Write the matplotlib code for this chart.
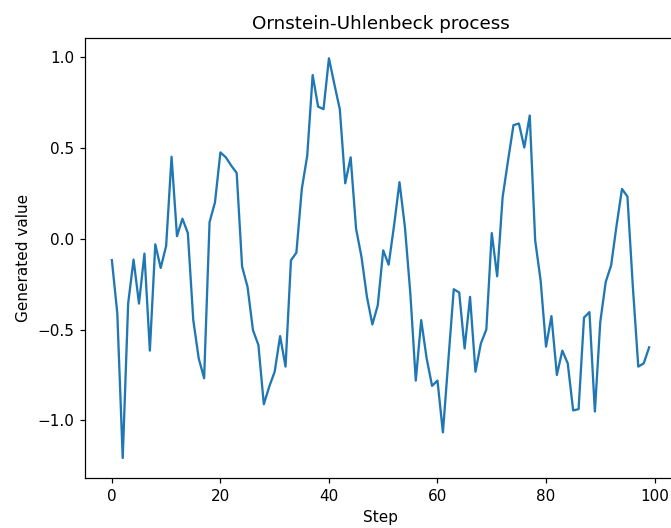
import matplotlib
matplotlib.use("Agg")
import matplotlib.pyplot as plt
import numpy as np

steps = list(range(100))
values = [
    -0.118, -0.41, -1.207, -0.357, -0.115, -0.357, -0.082, -0.616, -0.031, -0.161,
    -0.04, 0.451, 0.014, 0.11, 0.031, -0.448, -0.658, -0.768, 0.091, 0.2,
    0.475, 0.448, 0.402, 0.362, -0.154, -0.265, -0.503, -0.585, -0.911, -0.814,
    -0.732, -0.536, -0.704, -0.119, -0.077, 0.274, 0.457, 0.901, 0.727, 0.713,
    0.993, 0.850, 0.713, 0.305, 0.448, 0.055, -0.101, -0.32, -0.472, -0.366,
    -0.064, -0.143, 0.073, 0.311, 0.064, -0.302, -0.781, -0.448, -0.658, -0.810,
    -0.781, -1.066, -0.67, -0.278, -0.296, -0.604, -0.32, -0.732, -0.576, -0.5,
    0.031, -0.207, 0.228, 0.43, 0.625, 0.634, 0.502, 0.678, -0.009, -0.229,
    -0.594, -0.426, -0.75, -0.616, -0.686, -0.945, -0.938, -0.434, -0.404, -0.951,
    -0.457, -0.238, -0.146, 0.073, 0.274, 0.232, -0.265, -0.704, -0.686, -0.598,
]

W, H = 671, 528
dpi = 110
fig = plt.figure(figsize=(W / dpi, H / dpi), dpi=dpi)
left, right, top, bottom = 85, 676, 38.3, 478
ax = fig.add_axes([left / W, (H - bottom) / H, (right - left) / W, (bottom - top) / H])
ax.plot(steps, values, color="#1f77b4", linewidth=1.5)
ax.set_title("Ornstein-Uhlenbeck process")
ax.set_xlabel("Step")
ax.set_ylabel("Generated value")
fig.savefig("out.png", dpi=dpi)
